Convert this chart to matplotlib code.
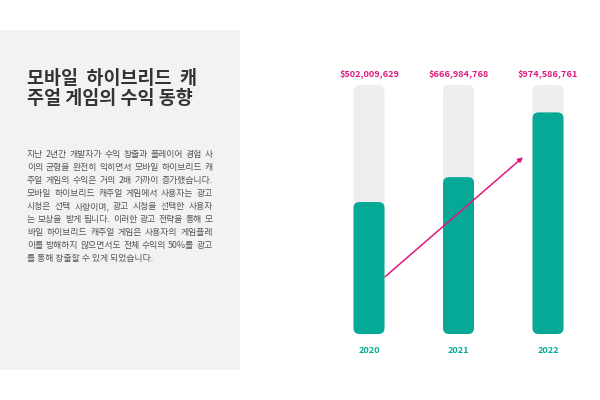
import matplotlib
matplotlib.use("Agg")
import matplotlib.pyplot as plt
from matplotlib.patches import FancyBboxPatch, Rectangle

plt.rcParams['font.family'] = ['Noto Sans CJK KR', 'DejaVu Sans']

# ---- data ----
years = ["2020", "2021", "2022"]
revenue_labels = ["$502,009,629", "$666,984,768", "$974,586,761"]
fill_levels = [53, 63, 89]      # filled share of each track (percent)
track_max = 100

title_lines = ["모바일  하이브리드  캐", "주얼 게임의 수익 동향"]
body_lines = [
    "지난 2년간 개발자가 수익 창출과 플레이어 경험 사",
    "이의 균형을 완전히 익히면서 모바일 하이브리드 캐",
    "주얼 게임의 수익은 거의 2배 가까이 증가했습니다.",
    "모바일 하이브리드 캐주얼 게임에서 사용자는 광고",
    "시청은 선택 사항이며, 광고 시청을 선택한 사용자",
    "는 보상을 받게 됩니다. 이러한 광고 전략을 통해 모",
    "바일 하이브리드 캐주얼 게임은 사용자의 게임플레",
    "이를 방해하지 않으면서도 전체 수익의 50%를 광고",
    "를 통해 창출할 수 있게 되었습니다.",
]

TEAL = "#05a995"
MAGENTA = "#e0187f"
TRACK = "#eeeeee"

W, H = 600, 400
fig = plt.figure(figsize=(6, 4), dpi=100)
fig.patch.set_facecolor("white")
renderer = fig.canvas.get_renderer()

# left gray panel
fig.patches.append(Rectangle((0, 30 / H), 240 / W, 340 / H, transform=fig.transFigure,
                             facecolor="#f2f2f2", edgecolor="none", zorder=0))

# title
for i, line in enumerate(title_lines):
    fig.text(27 / W, 1 - (78 + i * 20.5) / H, line, fontsize=13.3, fontweight="bold",
             color="#333333", va="center", ha="left")

# body (justified)
body_left, body_right = 27, 213
for i, line in enumerate(body_lines):
    y = 1 - (155 + i * 12.9) / H
    if i == len(body_lines) - 1:
        fig.text(body_left / W, y, line, fontsize=6.35, color="#555555",
                 va="center", ha="left")
        continue
    words = line.split(" ")
    arts, widths = [], []
    for w_ in words:
        t = fig.text(0, y, w_, fontsize=6.35, color="#555555", va="center", ha="left")
        widths.append(t.get_window_extent(renderer).width)
        arts.append(t)
    gap = (body_right - body_left - sum(widths)) / max(len(words) - 1, 1)
    x = body_left
    for t, wd in zip(arts, widths):
        t.set_x(x / W)
        x += wd + gap

# bar chart axes
px_x = 89.5
left_px = 369 - 0.5 * px_x
ax_bottom_px = 66
ax_h_px = 249
ax = fig.add_axes([left_px / W, ax_bottom_px / H, 3 * px_x / W, ax_h_px / H])
ax.set_xlim(-0.5, 2.5)
ax.set_ylim(0, track_max)
ax.axis("off")

bw = 31 / px_x
r_px = 6
rs = r_px / px_x
aspect = px_x / (ax_h_px / track_max)

for i, (yr, lab, lv) in enumerate(zip(years, revenue_labels, fill_levels)):
    ax.add_patch(FancyBboxPatch((i - bw / 2, 0), bw, track_max,
                                boxstyle=f"round,pad=0,rounding_size={rs}",
                                mutation_aspect=aspect, facecolor=TRACK,
                                edgecolor="none", zorder=1))
    ax.add_patch(FancyBboxPatch((i - bw / 2, 0), bw, lv,
                                boxstyle=f"round,pad=0,rounding_size={rs}",
                                mutation_aspect=aspect, facecolor=TEAL,
                                edgecolor="none", zorder=2))
    ax.text(i, track_max + 4.6, lab, ha="center", va="center", fontsize=6.6,
            fontweight="bold", color=MAGENTA, clip_on=False)
    ax.text(i, -6.6, yr, ha="center", va="center", fontsize=6.6,
            fontweight="bold", color=TEAL, clip_on=False)

# growth arrow
ax.annotate("", xy=(1.72, 71), xytext=(0.18, 23),
            arrowprops=dict(arrowstyle="-|>", color=MAGENTA, lw=1.1,
                            mutation_scale=7, shrinkA=0, shrinkB=0),
            zorder=3, annotation_clip=False)

fig.savefig("out.png", dpi=100, facecolor="white")
